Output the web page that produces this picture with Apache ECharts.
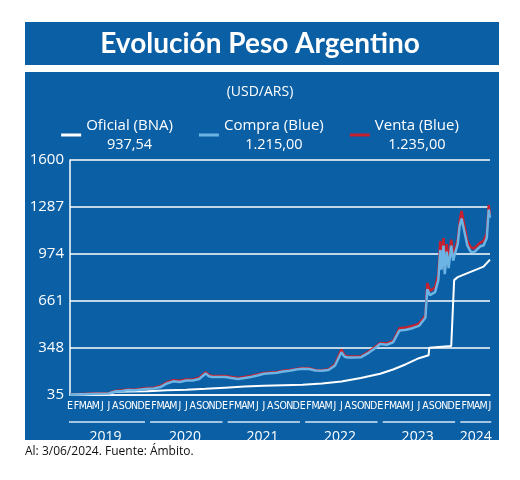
<!DOCTYPE html>
<html><head><meta charset="utf-8">
<script src="https://cdn.jsdelivr.net/npm/echarts@6/dist/echarts.min.js"></script>
<style>html,body{margin:0;background:#fff}#c{width:520px;height:480px}</style>
</head><body><div id="c"></div>
<script>
const monthLetters = ['E','F','M','A','M','J','J','A','S','O','N','D'];
const years = ['2019','2020','2021','2022','2023','2024'];
const yTicks = [35,348,661,974,1287,1600];
const legendValues = ['937,54','1.215,00','1.235,00'];
// x = months since Jan 2019
const oficial = [[0,37],[3,42],[6,43],[7,57],[9,58],[12,60],[15,66],[18,70],[21,76],[24,84],[27,91],[30,96],[33,100],[36,103],[39,112],[42,125],[45,148],[48,177],[50,205],[52,240],[54,280],[55.5,300],[55.6,350],[59,362],[59.3,366],[59.45,800],[60,820],[62,855],[64,890],[65,937]];
const compra = [[0,37],[2,40],[4,44],[6,45],[7,58],[8,62],[9,68],[10,66],[11,72],[12,76],[13,78],[14,88],[15,112],[16,126],[17,122],[18,132],[19,132],[20,142],[21,178],[21.5,160],[22,155],[23,155],[24,155],[25,148],[26,142],[27,148],[28,155],[29,165],[30,176],[31,180],[32,183],[33,192],[34,197],[35,205],[36,210],[37,208],[38,198],[39,196],[40,202],[41,230],[42,320],[42.5,290],[43,285],[44,285],[45,286],[46,310],[47,340],[48,375],[49,370],[50,385],[51,465],[52,470],[53,480],[54,495],[55,550],[55.3,740],[55.7,700],[56,690],[56.5,720],[57,800],[57.3,1000],[57.5,870],[57.8,1030],[58,840],[58.3,990],[58.6,880],[59,1030],[59.3,930],[59.6,980],[60,1040],[60.3,1160],[60.6,1210],[61,1130],[61.5,1030],[62,990],[62.5,985],[63,1005],[63.5,1025],[64,1030],[64.5,1080],[64.8,1270],[65,1215]];
const venta = [[0,38],[2,42],[4,46],[6,47],[7,62],[8,66],[9,72],[10,70],[11,77],[12,81],[13,83],[14,95],[15,120],[16,134],[17,130],[18,139],[19,139],[20,150],[21,186],[21.5,168],[22,162],[23,162],[24,162],[25,155],[26,148],[27,155],[28,161],[29,171],[30,182],[31,185],[32,188],[33,197],[34,202],[35,209],[36,215],[37,213],[38,202],[39,200],[40,207],[41,238],[42,338],[42.5,298],[43,292],[44,291],[45,293],[46,318],[47,348],[48,382],[49,378],[50,395],[51,480],[52,485],[53,494],[54,510],[55,565],[55.3,780],[55.7,730],[56,720],[56.5,750],[57,840],[57.3,1060],[57.5,910],[57.8,1080],[58,880],[58.3,1040],[58.6,920],[59,1070],[59.3,960],[59.6,1010],[60,1070],[60.3,1190],[60.6,1260],[61,1170],[61.5,1060],[62,1020],[62.5,1010],[63,1030],[63.5,1050],[64,1060],[64.5,1110],[64.8,1300],[65,1235]];

const Y0 = yTicks[0];
const shift = a => a.map(p => [p[0], p[1] - Y0]);
const yearSpans = [[-0.3,11.6],[12.4,23.6],[24.4,35.6],[36.4,47.6],[48.4,59.6],[60.4,65.2]];
const underline = [];
yearSpans.forEach(s => { underline.push([s[0],0.5],[s[1],0.5],[null,null]); });
const yearCenters = [5.5,17.8,29.8,41.8,53.8,62.8];
const monthPositions = Array.from({length:66},(_,i)=>i);

const BLUE = '#0b5fa5';
const chart = echarts.init(document.getElementById('c'));
chart.setOption({
  backgroundColor:'#fff',
  animation:false,
  graphic:[
    {type:'rect',z:-10,shape:{x:25,y:22,width:474,height:43},style:{fill:BLUE}},
    {type:'rect',z:-10,shape:{x:25,y:72,width:474,height:368},style:{fill:BLUE}},
    {type:'text',left:25,top:446,style:{text:'Al: 3/06/2024. Fuente: Ámbito.',fill:'#111',font:'12px "Open Sans", sans-serif'}}
  ],
  title:[
    {text:'Evolución Peso Argentino',left:'center',top:25,textStyle:{color:'#fff',fontSize:28,fontWeight:'bold',fontFamily:'Lato'}},
    {text:'(USD/ARS)',left:'center',top:80,textStyle:{color:'#fff',fontSize:14,fontWeight:'normal',fontFamily:'Open Sans'}}
  ],
  legend:{
    top:113,left:'center',itemGap:26,itemWidth:20,itemHeight:3,icon:'rect',
    data:[{name:'Oficial (BNA)',itemStyle:{color:'#fff'}},{name:'Compra (Blue)',itemStyle:{color:'#6cb4e4'}},{name:'Venta (Blue)',itemStyle:{color:'#c8202e'}}],
    formatter: n => {const i=['Oficial (BNA)','Compra (Blue)','Venta (Blue)'].indexOf(n); return '{a|'+n+'}\n{b|'+legendValues[i]+'}';},
    textStyle:{color:'#fff',rich:{a:{fontSize:15,fontFamily:'Open Sans',color:'#fff',align:'center',lineHeight:19},b:{fontSize:14.5,fontFamily:'Open Sans',color:'#fff',align:'center',lineHeight:19}}}
  },
  grid:[{left:70,right:30,top:160,bottom:85},{left:70,right:30,top:420,height:4}],
  xAxis:[
    {type:'value',gridIndex:0,min:0,max:65,interval:1,
     axisLine:{show:true,onZero:false,lineStyle:{color:'#fff',width:1.5}},axisTick:{show:false},splitLine:{show:false},
     axisLabel:{color:'#fff',fontSize:10.5,fontFamily:'DejaVu Sans Condensed',margin:6,customValues:monthPositions,hideOverlap:false,
       formatter:v=>monthLetters[((Math.round(v)%12)+12)%12]}},
    {type:'value',gridIndex:1,min:0,max:65,axisLine:{show:false},axisTick:{show:false},splitLine:{show:false},
     axisLabel:{color:'#fff',fontSize:14,fontFamily:'Open Sans',margin:6,customValues:yearCenters,formatter:v=>years[yearCenters.indexOf(v)]}}
  ],
  yAxis:[
    {type:'value',gridIndex:0,min:0,max:yTicks[5]-Y0,interval:yTicks[1]-yTicks[0],
     axisLine:{show:true,lineStyle:{color:'#fff',width:1.5}},axisTick:{show:false},
     splitLine:{show:true,lineStyle:{color:'#fff',width:1.5}},
     axisLabel:{color:'#fff',fontSize:15,fontFamily:'Open Sans',margin:6,formatter:v=>String(v+Y0)}},
    {type:'value',gridIndex:1,min:0,max:1,show:false}
  ],
  series:[
    {name:'Oficial (BNA)',type:'line',data:shift(oficial),showSymbol:false,lineStyle:{color:'#fff',width:2},itemStyle:{color:'#fff'},z:3},
    {name:'Venta (Blue)',type:'line',data:shift(venta),showSymbol:false,lineStyle:{color:'#c8202e',width:2.5},itemStyle:{color:'#c8202e'},z:2},
    {name:'Compra (Blue)',type:'line',data:shift(compra),showSymbol:false,lineStyle:{color:'#6cb4e4',width:2.5},itemStyle:{color:'#6cb4e4'},z:4},
    {type:'line',xAxisIndex:1,yAxisIndex:1,data:underline,showSymbol:false,connectNulls:false,clip:false,lineStyle:{color:'#d8e8f5',width:1.5},silent:true}
  ]
});
</script></body></html>
